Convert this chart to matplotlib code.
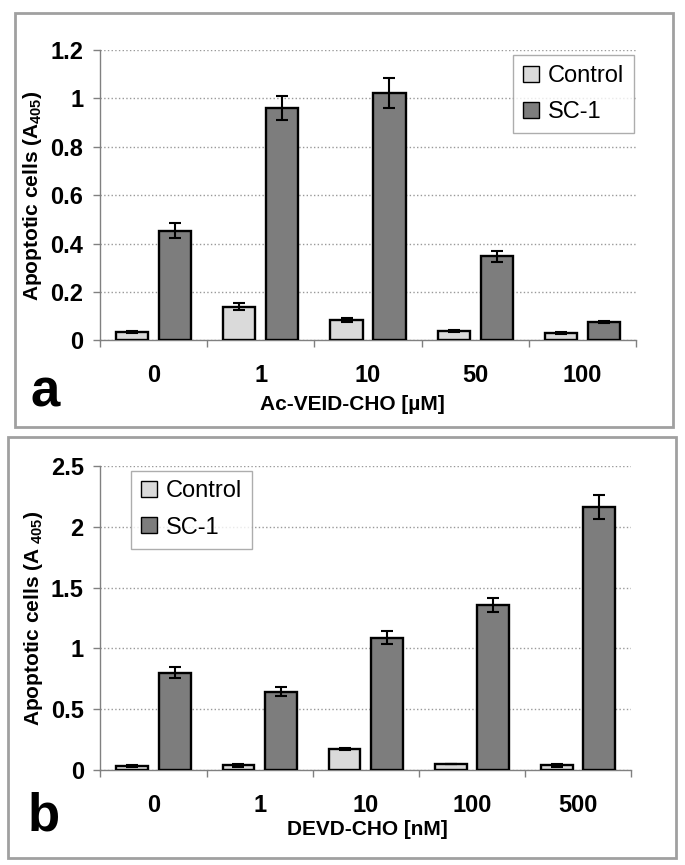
import numpy as np
import matplotlib
matplotlib.use('Agg')
import matplotlib.pyplot as plt
from matplotlib.patches import Rectangle
from matplotlib.lines import Line2D

# Panel a: Ac-VEID-CHO
cats_a = ['0', '1', '10', '50', '100']
control_a = [0.035, 0.14, 0.083, 0.038, 0.032]
control_a_err = [0.005, 0.015, 0.008, 0.005, 0.005]
sc1_a = [0.454, 0.962, 1.023, 0.347, 0.077]
sc1_a_err = [0.03, 0.05, 0.062, 0.022, 0.005]
yticks_a = [0, 0.2, 0.4, 0.6, 0.8, 1, 1.2]
yticklabels_a = ['0', '0.2', '0.4', '0.6', '0.8', '1', '1.2']

# Panel b: DEVD-CHO
cats_b = ['0', '1', '10', '100', '500']
control_b = [0.033, 0.038, 0.173, 0.052, 0.038]
control_b_err = [0.01, 0.01, 0.01, 0.0, 0.01]
sc1_b = [0.80, 0.644, 1.088, 1.357, 2.163]
sc1_b_err = [0.045, 0.035, 0.055, 0.06, 0.1]
yticks_b = [0, 0.5, 1, 1.5, 2, 2.5]
yticklabels_b = ['0', '0.5', '1', '1.5', '2', '2.5']

series_names = ['Control', 'SC-1']
colors = ['#dadada', '#7d7d7d']

plt.rcParams['font.family'] = ['Liberation Sans', 'DejaVu Sans']
plt.rcParams['mathtext.fontset'] = 'custom'
plt.rcParams['mathtext.bf'] = 'Liberation Sans:bold'
plt.rcParams['mathtext.rm'] = 'Liberation Sans:bold'

fig = plt.figure(figsize=(6.85, 8.65), dpi=100)


def panel(rect, cats, ctrl, ctrl_err, sc1, sc1_err, yticks, ylabels, ymax,
          ylabel, xlabel, xlabel_pos, letter_pos, letter, leg_anchor):
    ax = fig.add_axes(rect)
    x = np.arange(len(cats))
    ax.bar(x - 0.2, ctrl, 0.3, color=colors[0], edgecolor='black', linewidth=1.7, zorder=3)
    ax.bar(x + 0.2, sc1, 0.3, color=colors[1], edgecolor='black', linewidth=1.7, zorder=3)
    ax.errorbar(x - 0.2, ctrl, yerr=ctrl_err, fmt='none', ecolor='black',
                elinewidth=1.5, capsize=4, capthick=1.5, zorder=4)
    ax.errorbar(x + 0.2, sc1, yerr=sc1_err, fmt='none', ecolor='black',
                elinewidth=1.5, capsize=4, capthick=1.5, zorder=4)

    ax.set_xlim(-0.5, len(cats) - 0.5)
    ax.set_ylim(0, ymax)
    ax.set_yticks(yticks)
    ax.set_yticklabels(ylabels, fontsize=17, fontweight='bold')
    ax.set_xticks(x)
    ax.set_xticklabels(cats, fontsize=17, fontweight='bold')
    ax.set_xticks(np.arange(-0.5, len(cats)), minor=True)
    ax.tick_params(axis='x', which='major', length=0, pad=17)
    ax.tick_params(axis='x', which='minor', length=5, color='#808080', width=1)
    ax.tick_params(axis='y', length=5, color='#808080', width=1, pad=7)

    ax.yaxis.grid(True, linestyle=':', color='#999999', linewidth=1)
    ax.set_axisbelow(True)
    for s in ['top', 'right']:
        ax.spines[s].set_visible(False)
    for s in ['left', 'bottom']:
        ax.spines[s].set_color('#808080')
        ax.spines[s].set_linewidth(1)

    ax.set_ylabel(ylabel, fontsize=15, fontweight='bold')
    ax.yaxis.set_label_coords(-0.104, 0.5)

    fig.text(xlabel_pos[0], xlabel_pos[1], xlabel, fontsize=15, fontweight='bold',
             ha='center', va='center')
    fig.text(letter_pos[0], letter_pos[1], letter, fontsize=38, fontweight='bold',
             ha='center', va='center')

    handles = [Line2D([], [], marker='s', linestyle='none', markersize=12,
                      markerfacecolor=c, markeredgecolor='black', markeredgewidth=1)
               for c in colors]
    leg = ax.legend(handles, series_names, loc='upper left', bbox_to_anchor=leg_anchor,
                    borderaxespad=0, prop={'size': 17}, frameon=True, fancybox=False,
                    edgecolor='#999999', handlelength=0.7, handletextpad=0.35,
                    labelspacing=0.6, borderpad=0.42)
    leg.get_frame().set_linewidth(1)
    return ax


panel([0.146, 0.6064, 0.7825, 0.3358], cats_a, control_a, control_a_err, sc1_a, sc1_a_err,
      yticks_a, yticklabels_a, 1.2, r'Apoptotic cells (A$_{\mathbf{405}}$)',
      'Ac-VEID-CHO [\u00b5M]', (0.514, 0.532), (0.066, 0.546), 'a', (0.77, 0.983))

panel([0.1467, 0.1098, 0.7745, 0.3515], cats_b, control_b, control_b_err, sc1_b, sc1_b_err,
      yticks_b, yticklabels_b, 2.5, r'Apoptotic cells (A$_{\ \mathbf{405}}$)',
      'DEVD-CHO [nM]', (0.536, 0.0416), (0.064, 0.0555), 'b', (0.057, 0.985))

# panel frames
for (x0, y0, w, h) in [(15, 12.7, 658, 414), (8, 437, 668, 421)]:
    fig.patches.append(Rectangle((x0 / 685, 1 - (y0 + h) / 865), w / 685, h / 865,
                                 transform=fig.transFigure, fill=False,
                                 edgecolor='#a0a0a0', linewidth=2))

fig.savefig('out.png', dpi=100)
